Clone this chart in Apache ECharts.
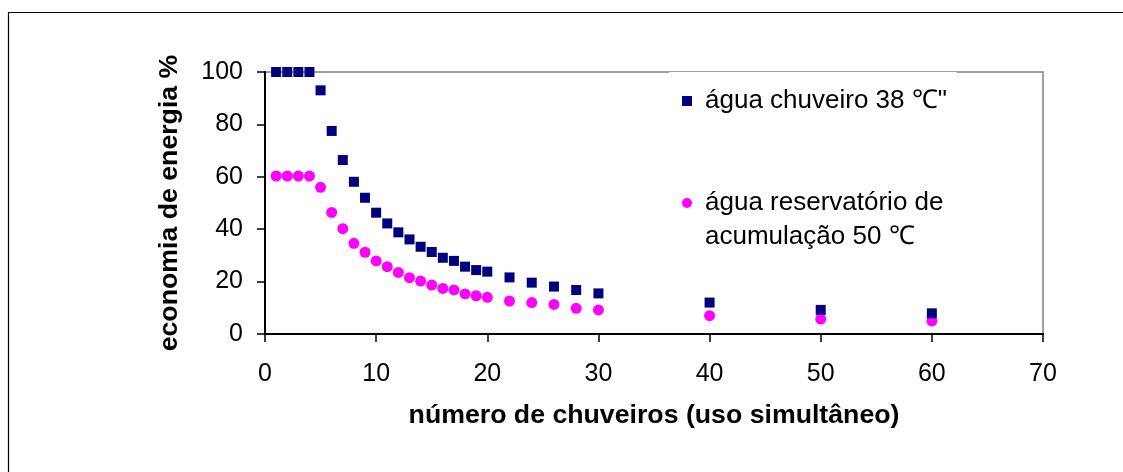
<!DOCTYPE html>
<html>
<head>
<meta charset="utf-8">
<script src="https://cdn.jsdelivr.net/npm/echarts@6/dist/echarts.min.js"></script>
<style>
html,body{margin:0;padding:0;background:#fff;}
#c{width:1123px;height:472px;}
</style>
</head>
<body>
<div id="c"></div>
<script>
// number of showers (simultaneous use)
const showers = [1,2,3,4,5,6,7,8,9,10,11,12,13,14,15,16,17,18,19,20,22,24,26,28,30,40,50,60];
// energy saving %, shower water 38 °C
const saving38 = [100,100,100,100,93,77.5,66.4,58.1,52,46.3,42.2,38.8,36.1,33.3,31.3,29.1,27.9,25.7,24.4,23.8,21.6,19.6,18.1,16.8,15.5,12.0,9.2,7.9];
// energy saving %, storage reservoir water 50 °C
const saving50 = [60.3,60.3,60.3,60.3,56,46.4,40.2,34.6,31.2,27.9,25.7,23.5,21.5,20.2,18.7,17.4,16.8,15.3,14.6,14.0,12.6,12.0,11.3,9.8,9.2,7.0,5.7,5.0];

const name38 = 'água chuveiro 38 ℃"';
const name50 = 'água reservatório de acumulação 50 ℃';
const xTitle = 'número de chuveiros (uso simultâneo)';
const yTitle = 'economia de energia %';

const chart = echarts.init(document.getElementById('c'), null, {renderer:'canvas'});
const font = 'Liberation Sans, Arial, Helvetica, sans-serif';
chart.setOption({
  animation: false,
  backgroundColor: '#fff',
  textStyle: {fontFamily: font},
  graphic: [{
    type: 'rect', z: -10, silent: true,
    shape: {x: 8.5, y: 12.5, width: 1300, height: 700},
    style: {fill: 'none', stroke: '#000', lineWidth: 1.2}
  }],
  grid: {
    left: 265, right: 80, top: 72, bottom: 138,
    show: true, borderColor: '#808080', borderWidth: 1.5, backgroundColor: 'transparent'
  },
  legend: {
    orient: 'vertical',
    left: 669, top: 72,
    padding: [12, 10, 10, 13],
    backgroundColor: '#fff',
    itemWidth: 10, itemHeight: 10,
    itemGap: 34,
    z: 10,
    data: [
      {name: name38, icon: 'rect'},
      {name: name50, icon: 'circle'}
    ],
    formatter: function (n) {
      if (n === name50) return '\nágua reservatório de\nacumulação 50 ℃';
      return n;
    },
    textStyle: {fontSize: 26, color: '#000', lineHeight: 34, padding: [0, 0, 0, 8], fontFamily: font}
  },
  xAxis: {
    type: 'value', min: 0, max: 70, interval: 10,
    name: xTitle, nameLocation: 'middle', nameGap: 68,
    nameTextStyle: {fontSize: 26.7, fontWeight: 'bold', color: '#000', fontFamily: font},
    axisLine: {show: true, onZero: false, lineStyle: {color: '#000', width: 2}},
    axisTick: {show: true, inside: false, length: 8, lineStyle: {color: '#000', width: 1.5}},
    axisLabel: {fontSize: 25, color: '#000', margin: 28, fontFamily: font},
    splitLine: {show: false}
  },
  yAxis: {
    type: 'value', min: 0, max: 100, interval: 20,
    name: yTitle, nameLocation: 'middle', nameGap: 82,
    nameTextStyle: {fontSize: 26.7, fontWeight: 'bold', color: '#000', fontFamily: font},
    axisLine: {show: true, lineStyle: {color: '#000', width: 2}},
    axisTick: {show: true, inside: false, length: 8, lineStyle: {color: '#000', width: 1.5}},
    axisLabel: {fontSize: 25, color: '#000', margin: 22, fontFamily: font},
    splitLine: {show: false}
  },
  series: [
    {
      name: name38, type: 'scatter', symbol: 'rect', symbolSize: 10,
      itemStyle: {color: '#000080', opacity: 1},
      data: showers.map((x, i) => [x, saving38[i]]),
      z: 3
    },
    {
      name: name50, type: 'scatter', symbol: 'circle', symbolSize: 11,
      itemStyle: {color: '#ff00ff', opacity: 1},
      data: showers.map((x, i) => [x, saving50[i]]),
      z: 2
    }
  ]
});
</script>
</body>
</html>
